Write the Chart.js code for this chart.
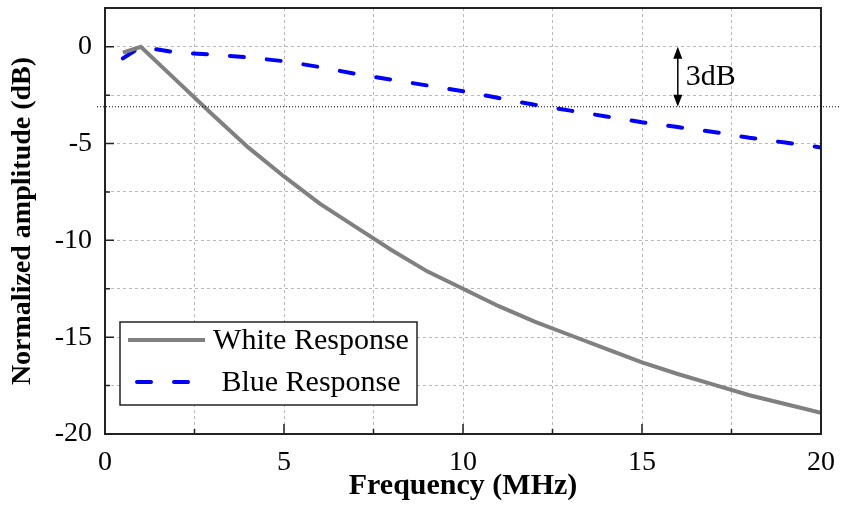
<!DOCTYPE html>
<html>
<head>
<meta charset="utf-8">
<title>Normalized amplitude vs frequency</title>
<script src="https://cdn.jsdelivr.net/npm/chart.js@4.4.1/dist/chart.umd.min.js"></script>
<style>
  html, body { margin: 0; padding: 0; background: #fff; }
  #wrap { width: 851px; height: 512px; }
</style>
</head>
<body>
<div id="wrap"><canvas id="respChart" width="851" height="512"></canvas></div>
<script>
// measured frequency response, normalized to the 1 MHz point
const freqMHz = [0.5, 1, 2, 3, 4, 5, 6, 7, 8, 9, 10, 11, 12, 13, 14, 15, 16, 17, 18, 19, 20];
const whiteResponse = [-0.3, 0, -1.75, -3.5, -5.2, -6.7, -8.1, -9.3, -10.5, -11.6, -12.5, -13.4, -14.2, -14.9, -15.6, -16.3, -16.9, -17.45, -18.0, -18.45, -18.9];
const blueResponse = [-0.6, 0, -0.3, -0.4, -0.55, -0.75, -1.05, -1.4, -1.7, -2.0, -2.3, -2.65, -3.0, -3.3, -3.6, -3.9, -4.15, -4.4, -4.7, -4.95, -5.2];

const seriesNames = ['White Response', 'Blue Response'];
const xTickLabels = [0, 5, 10, 15, 20];
const yTickLabels = [0, -5, -10, -15, -20];

const cutoffLevel = -3.1;   // level of the -3dB reference line
const cutoffMarkFreq = 16;  // where the "3dB" arrow sits
const cutoffText = '3dB';

const serif = "'Liberation Serif', 'Times New Roman', serif";

function toPoints(xs, ys) {
    return xs.map((x, i) => ({ x: x, y: ys[i] }));
}

// inward tick marks, frame, -3dB line, arrow and the boxed legend
const decorations = {
    id: 'decorations',
    afterDatasetsDraw(chart) {
        const { ctx, chartArea: area, scales: { x, y } } = chart;

        // dotted -3dB line, running a little past both axes
        const yCut = y.getPixelForValue(cutoffLevel);
        ctx.save();
        ctx.strokeStyle = '#000';
        ctx.lineWidth = 1;
        ctx.setLineDash([1, 2]);
        ctx.beginPath();
        ctx.moveTo(area.left - 8, yCut);
        ctx.lineTo(area.right + 20, yCut);
        ctx.stroke();
        ctx.restore();

        // double arrow between 0 dB and the cut-off line
        const xa = x.getPixelForValue(cutoffMarkFreq);
        const y0 = y.getPixelForValue(0);
        ctx.save();
        ctx.strokeStyle = '#000';
        ctx.fillStyle = '#000';
        ctx.lineWidth = 1.5;
        ctx.beginPath();
        ctx.moveTo(xa, y0 + 8);
        ctx.lineTo(xa, yCut - 8);
        ctx.stroke();
        ctx.beginPath();
        ctx.moveTo(xa, y0);
        ctx.lineTo(xa - 4.5, y0 + 12);
        ctx.lineTo(xa + 4.5, y0 + 12);
        ctx.closePath();
        ctx.fill();
        ctx.beginPath();
        ctx.moveTo(xa, yCut);
        ctx.lineTo(xa - 4.5, yCut - 12);
        ctx.lineTo(xa + 4.5, yCut - 12);
        ctx.closePath();
        ctx.fill();
        ctx.font = '30px ' + serif;
        ctx.textAlign = 'left';
        ctx.textBaseline = 'middle';
        ctx.fillText(cutoffText, xa + 8, (y0 + yCut) / 2);
        ctx.restore();

        // tick marks pointing into the plot
        ctx.save();
        ctx.strokeStyle = '#222';
        ctx.lineWidth = 1.5;
        ctx.beginPath();
        x.ticks.forEach(t => {
            const px = x.getPixelForValue(t.value);
            const len = t.value % 5 === 0 ? 10 : 5;
            ctx.moveTo(px, area.bottom);
            ctx.lineTo(px, area.bottom - len);
        });
        y.ticks.forEach(t => {
            if (t.value > 0) return;
            const py = y.getPixelForValue(t.value);
            const len = t.value % 5 === 0 ? 9 : 5;
            ctx.moveTo(area.left, py);
            ctx.lineTo(area.left + len, py);
        });
        ctx.stroke();

        // frame
        ctx.lineWidth = 2;
        ctx.strokeRect(area.left, area.top, area.right - area.left, area.bottom - area.top);
        ctx.restore();

        // legend box in the lower left corner
        const box = { left: 120, top: 322, width: 297, height: 83 };
        ctx.save();
        ctx.fillStyle = '#fff';
        ctx.fillRect(box.left, box.top, box.width, box.height);
        ctx.strokeStyle = '#222';
        ctx.lineWidth = 1.5;
        ctx.strokeRect(box.left, box.top, box.width, box.height);
        const rows = [340, 382];
        chart.data.datasets.forEach((ds, i) => {
            ctx.strokeStyle = ds.borderColor;
            ctx.lineWidth = ds.borderWidth;
            ctx.lineCap = ds.borderCapStyle || 'butt';
            ctx.setLineDash(ds.borderDash || []);
            ctx.beginPath();
            if (ds.borderDash) {
                ctx.moveTo(137, rows[i]);
                ctx.lineTo(195, rows[i]);
            } else {
                ctx.moveTo(128, rows[i]);
                ctx.lineTo(205, rows[i]);
            }
            ctx.stroke();
            ctx.setLineDash([]);
            ctx.fillStyle = '#000';
            ctx.font = '30px ' + serif;
            ctx.textAlign = 'center';
            ctx.textBaseline = 'middle';
            ctx.fillText(ds.label, 311, rows[i] + 1);
        });
        ctx.restore();
    }
};

const ctx = document.getElementById('respChart').getContext('2d');

new Chart(ctx, {
    type: 'line',
    data: {
        datasets: [
            {
                label: seriesNames[0],
                data: toPoints(freqMHz, whiteResponse),
                borderColor: '#808080',
                borderWidth: 4,
                pointRadius: 0,
                fill: false
            },
            {
                label: seriesNames[1],
                data: toPoints(freqMHz, blueResponse),
                borderColor: '#0000ff',
                borderWidth: 4,
                borderDash: [14, 23],
                borderCapStyle: 'round',
                pointRadius: 0,
                fill: false
            }
        ]
    },
    options: {
        responsive: false,
        animation: false,
        layout: { padding: { top: 8, right: 30, left: 0, bottom: 0 } },
        plugins: {
            legend: { display: false },
            tooltip: { enabled: false }
        },
        elements: { line: { tension: 0 } },
        scales: {
            x: {
                type: 'linear',
                min: 0,
                max: 20,
                afterFit(scale) {
                    scale.height = 78;
                    scale.paddingLeft = 0;
                    scale.paddingRight = 0;
                },
                ticks: {
                    stepSize: 2.5,
                    autoSkip: false,
                    maxRotation: 0,
                    padding: 12,
                    color: '#000',
                    font: { family: serif, size: 28 },
                    callback: v => xTickLabels.includes(v) ? String(v) : ''
                },
                grid: { color: '#b8b8b8', lineWidth: 1, drawTicks: false },
                border: { display: false, dash: [3, 3] },
                title: {
                    display: true,
                    text: 'Frequency (MHz)',
                    color: '#000',
                    font: { family: serif, size: 30, weight: 'bold' },
                    padding: { top: 0, bottom: 8 }
                }
            },
            y: {
                min: -20,
                max: 2,
                afterFit(scale) {
                    scale.width = 105;
                    scale.paddingTop = 0;
                    scale.paddingBottom = 0;
                },
                ticks: {
                    stepSize: 2.5,
                    autoSkip: false,
                    padding: 13,
                    color: '#000',
                    font: { family: serif, size: 28 },
                    callback: v => yTickLabels.includes(v) ? String(v) : ''
                },
                grid: { color: '#b8b8b8', lineWidth: 1, drawTicks: false },
                border: { display: false, dash: [3, 3] },
                title: {
                    display: true,
                    text: 'Normalized amplitude (dB)',
                    color: '#000',
                    font: { family: serif, size: 28, weight: 'bold' },
                    padding: { top: 6, bottom: 0 }
                }
            }
        }
    },
    plugins: [decorations]
});
</script>
</body>
</html>
